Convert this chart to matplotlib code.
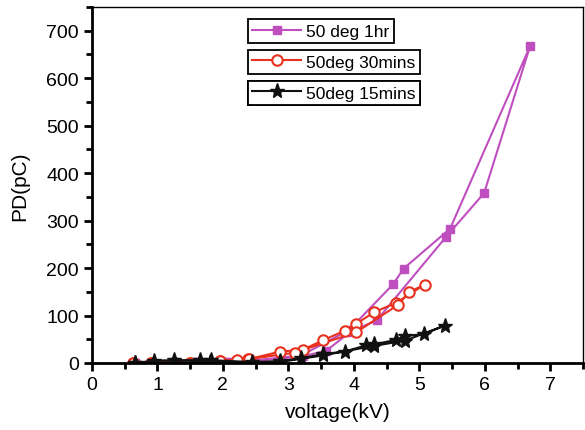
"""PD vs voltage for three 50 deg conditioning times (hysteresis loops)."""

import matplotlib

matplotlib.use("Agg")
import matplotlib.pyplot as plt
from matplotlib.ticker import MultipleLocator

# 50 deg 1hr: rising then falling branch
V_1HR = [0.65, 1.26, 1.61, 2.06, 2.45, 3.22, 3.58, 3.95, 4.35, 5.41, 5.99, 6.69,
         5.47, 4.76, 4.60, 3.93, 3.20, 2.45, 2.06, 1.61, 1.26, 0.65]
PD_1HR = [1, 2, 2, 3, 4, 14, 26, 66, 90, 266, 358, 667,
          283, 199, 166, 70, 16, 5, 3, 2, 2, 1]

# 50deg 30mins
V_30 = [0.62, 0.90, 1.50, 1.95, 2.22, 2.39, 2.87, 3.22, 3.53, 3.86, 4.04, 4.31,
        4.65, 5.08, 4.84, 4.68, 4.04, 3.10, 2.40, 1.95, 1.50, 0.90, 0.62]
PD_30 = [1, 1, 1, 4, 7, 8, 24, 28, 48, 68, 83, 107,
         127, 165, 149, 123, 65, 22, 8, 4, 1, 1, 1]

# 50deg 15mins
V_15 = [0.65, 0.95, 1.25, 1.65, 1.82, 2.45, 2.87, 3.20, 3.53, 3.86, 4.18, 4.30,
        4.65, 4.78, 5.07, 5.39, 4.78, 4.30, 3.53, 2.87, 1.80, 0.65]
PD_15 = [0, 5, 6, 6, 6, 2, 4, 10, 19, 24, 37, 39,
         49, 57, 61, 79, 47, 36, 16, 2, 2, 0]

MAGENTA = "#bf4fbf"
RED = "#e8311f"
BLACK = "#111111"

plt.rcParams["font.family"] = ["Liberation Sans", "DejaVu Sans"]

fig = plt.figure(figsize=(5.85, 4.31), dpi=100)
ax = fig.add_axes([92 / 585, 67 / 431, 491 / 585, 356 / 431])

l1, = ax.plot(V_1HR, PD_1HR, color=MAGENTA, lw=1.5, marker="s", ms=6,
              mfc=MAGENTA, mec=MAGENTA, label="50 deg 1hr")
l2, = ax.plot(V_30, PD_30, color=RED, lw=1.5, marker="o", ms=7.5,
              mfc="white", mec=RED, mew=1.5, label="50deg 30mins")
l3, = ax.plot(V_15, PD_15, color=BLACK, lw=1.5, marker="*", ms=11,
              mfc=BLACK, mec=BLACK, label="50deg 15mins")

ax.set_xlim(0, 7.5)
ax.set_ylim(0, 750)
ax.xaxis.set_major_locator(MultipleLocator(1))
ax.xaxis.set_minor_locator(MultipleLocator(0.5))
ax.yaxis.set_major_locator(MultipleLocator(100))
ax.yaxis.set_minor_locator(MultipleLocator(50))
ax.tick_params(which="major", direction="out", length=6, width=2, labelsize=14)
ax.tick_params(which="minor", direction="out", length=4, width=2)
ax.tick_params(top=False, right=False)

for side in ("left", "bottom"):
    ax.spines[side].set_linewidth(2)
for side in ("top", "right"):
    ax.spines[side].set_linewidth(1)

ax.set_xlabel("voltage(kV)", fontsize=15, labelpad=6)
ax.set_ylabel("PD(pC)", fontsize=15, labelpad=12)

tops = [0.966, 0.879, 0.792]
for handle, top in zip((l1, l2, l3), tops):
    leg = ax.legend(handles=[handle], loc="upper left", bbox_to_anchor=(0.318, top),
                    fontsize=12.5, frameon=True, fancybox=False, framealpha=1,
                    edgecolor="black", handlelength=2.8, borderpad=0.25,
                    handletextpad=0.3, borderaxespad=0)
    leg.get_frame().set_linewidth(1.3)
    ax.add_artist(leg)

fig.savefig("out.png", dpi=100)
